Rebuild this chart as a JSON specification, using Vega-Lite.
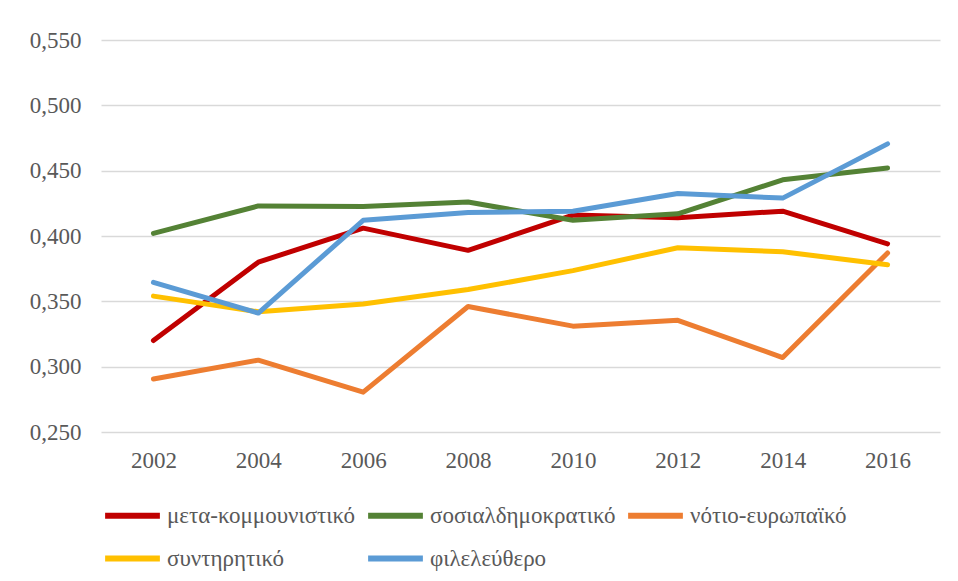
{
  "$schema": "https://vega.github.io/schema/vega-lite/v6.json",
  "autosize": "none",
  "width": 839,
  "height": 392,
  "padding": {"left": 101, "top": 40, "right": 18, "bottom": 149},
  "background": "white",
  "config": {
    "font": "Liberation Serif",
    "view": {"stroke": null},
    "locale": {"number": {"decimal": ",", "thousands": ".", "grouping": [3], "currency": ["", " €"]}}
  },
  "data": {
    "values": [
      {"year": "2002", "series": "μετα-κομμουνιστικό", "value": 0.320},
      {"year": "2004", "series": "μετα-κομμουνιστικό", "value": 0.380},
      {"year": "2006", "series": "μετα-κομμουνιστικό", "value": 0.406},
      {"year": "2008", "series": "μετα-κομμουνιστικό", "value": 0.389},
      {"year": "2010", "series": "μετα-κομμουνιστικό", "value": 0.416},
      {"year": "2012", "series": "μετα-κομμουνιστικό", "value": 0.414},
      {"year": "2014", "series": "μετα-κομμουνιστικό", "value": 0.419},
      {"year": "2016", "series": "μετα-κομμουνιστικό", "value": 0.394},
      {"year": "2002", "series": "σοσιαλδημοκρατικό", "value": 0.402},
      {"year": "2004", "series": "σοσιαλδημοκρατικό", "value": 0.423},
      {"year": "2006", "series": "σοσιαλδημοκρατικό", "value": 0.4225},
      {"year": "2008", "series": "σοσιαλδημοκρατικό", "value": 0.426},
      {"year": "2010", "series": "σοσιαλδημοκρατικό", "value": 0.412},
      {"year": "2012", "series": "σοσιαλδημοκρατικό", "value": 0.417},
      {"year": "2014", "series": "σοσιαλδημοκρατικό", "value": 0.443},
      {"year": "2016", "series": "σοσιαλδημοκρατικό", "value": 0.452},
      {"year": "2002", "series": "νότιο-ευρωπαϊκό", "value": 0.2905},
      {"year": "2004", "series": "νότιο-ευρωπαϊκό", "value": 0.305},
      {"year": "2006", "series": "νότιο-ευρωπαϊκό", "value": 0.2805},
      {"year": "2008", "series": "νότιο-ευρωπαϊκό", "value": 0.346},
      {"year": "2010", "series": "νότιο-ευρωπαϊκό", "value": 0.331},
      {"year": "2012", "series": "νότιο-ευρωπαϊκό", "value": 0.3355},
      {"year": "2014", "series": "νότιο-ευρωπαϊκό", "value": 0.307},
      {"year": "2016", "series": "νότιο-ευρωπαϊκό", "value": 0.387},
      {"year": "2002", "series": "συντηρητικό", "value": 0.354},
      {"year": "2004", "series": "συντηρητικό", "value": 0.342},
      {"year": "2006", "series": "συντηρητικό", "value": 0.348},
      {"year": "2008", "series": "συντηρητικό", "value": 0.359},
      {"year": "2010", "series": "συντηρητικό", "value": 0.3735},
      {"year": "2012", "series": "συντηρητικό", "value": 0.391},
      {"year": "2014", "series": "συντηρητικό", "value": 0.388},
      {"year": "2016", "series": "συντηρητικό", "value": 0.378},
      {"year": "2002", "series": "φιλελεύθερο", "value": 0.3645},
      {"year": "2004", "series": "φιλελεύθερο", "value": 0.341},
      {"year": "2006", "series": "φιλελεύθερο", "value": 0.412},
      {"year": "2008", "series": "φιλελεύθερο", "value": 0.418},
      {"year": "2010", "series": "φιλελεύθερο", "value": 0.419},
      {"year": "2012", "series": "φιλελεύθερο", "value": 0.4325},
      {"year": "2014", "series": "φιλελεύθερο", "value": 0.429},
      {"year": "2016", "series": "φιλελεύθερο", "value": 0.4705}
    ]
  },
  "mark": {"type": "line", "strokeWidth": 5, "strokeCap": "round", "strokeJoin": "round"},
  "encoding": {
    "x": {
      "field": "year", "type": "ordinal",
      "scale": {"type": "point", "padding": 0.5},
      "axis": {
        "title": null, "labelAngle": 0, "domain": false, "ticks": false, "grid": false,
        "labelFont": "Liberation Serif", "labelFontSize": 23, "labelColor": "#595959", "labelPadding": 17
      }
    },
    "y": {
      "field": "value", "type": "quantitative",
      "scale": {"domain": [0.25, 0.55], "nice": false, "zero": false},
      "axis": {
        "title": null, "values": [0.25, 0.3, 0.35, 0.4, 0.45, 0.5, 0.55], "format": ".3f",
        "domain": false, "ticks": false, "grid": true, "gridColor": "#D9D9D9", "gridWidth": 1.5,
        "labelFont": "Liberation Serif", "labelFontSize": 23, "labelColor": "#595959", "labelPadding": 20
      }
    },
    "color": {
      "field": "series", "type": "nominal",
      "scale": {
        "domain": ["μετα-κομμουνιστικό", "σοσιαλδημοκρατικό", "νότιο-ευρωπαϊκό", "συντηρητικό", "φιλελεύθερο"],
        "range": ["#C00000", "#548235", "#ED7D31", "#FFC000", "#5B9BD5"]
      },
      "legend": {
        "title": null, "orient": "none", "legendX": 1, "legendY": 445, "direction": "horizontal", "columns": 3,
        "symbolType": "stroke", "symbolStrokeWidth": 6, "symbolSize": 3000,
        "labelFont": "Liberation Serif", "labelFontSize": 23, "labelColor": "#595959",
        "labelOffset": 4, "columnPadding": 0, "rowPadding": -13, "labelLimit": 400
      }
    }
  }
}
